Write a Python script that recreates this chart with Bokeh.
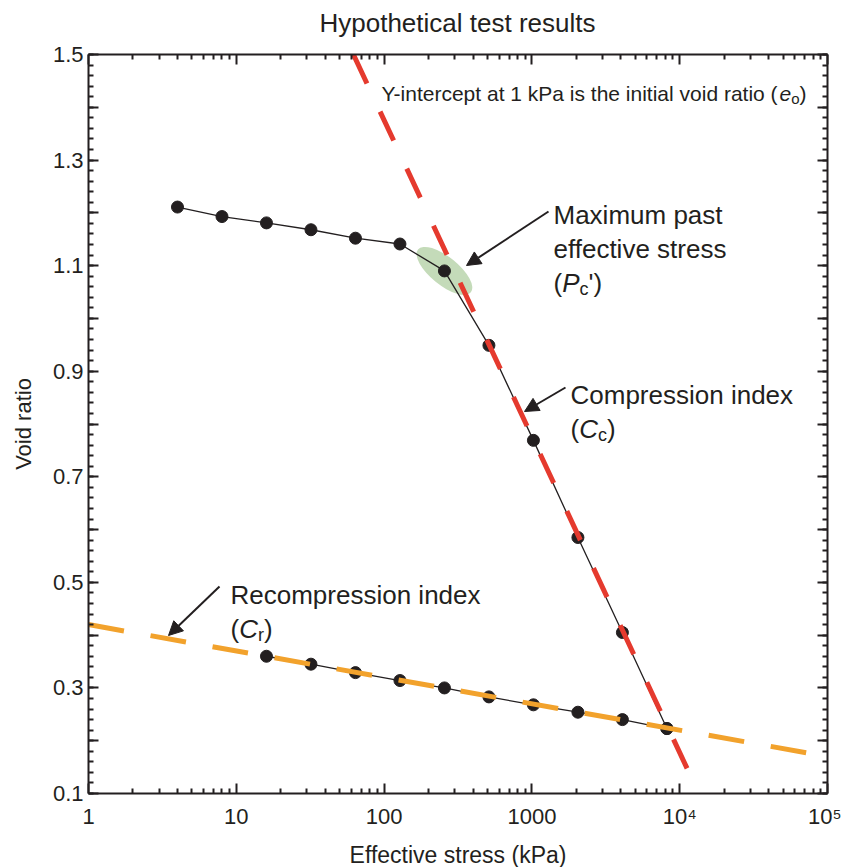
from bokeh.plotting import figure
from bokeh.layouts import column
from bokeh.models import (LogAxis, LinearAxis, FixedTicker, CustomJSTickFormatter,
                          Label, Arrow, NormalHead, Range1d, Div)
from bokeh.embed import file_html
from bokeh.resources import INLINE

# ---- oedometer test data -------------------------------------------------
# loading branch (kPa, void ratio)
load_stress = [4, 8, 16, 32, 64, 128, 256, 512, 1024, 2048, 4096, 8192]
load_void = [1.211, 1.193, 1.181, 1.168, 1.152, 1.141, 1.090, 0.949, 0.769, 0.585, 0.405, 0.223]

# unloading / reloading branch
unload_stress = [8192, 4096, 2048, 1024, 512, 256, 128, 64, 32, 16]
unload_void = [0.223, 0.240, 0.254, 0.268, 0.283, 0.300, 0.314, 0.329, 0.345, 0.360]

# fitted virgin compression line (Cc) and recompression line (Cr)
cc_stress = [62, 12000]
cc_void = [1.5, 0.13]
cr_stress = [1, 100000]
cr_void = [0.42, 0.17]

# maximum past effective stress estimate
pc_stress = [256]
pc_void = [1.09]

x_ticks = [1, 10, 100, 1000, 10000, 100000]
x_minor = [m * 10 ** d for d in range(5) for m in range(2, 10)]
y_ticks = [round(0.1 * i, 1) for i in range(1, 16)]
y_minor = [round(0.02 * i, 2) for i in range(5, 76)]

TITLE = "Hypothetical test results"
INK = "#231f20"
RED = "#e53a2e"
ORANGE = "#f2a22c"
FONT = "Liberation Sans"

# ---- geometry (frame placement in the page) -----------------------------
HEAD = 40                      # height of the title strip above the figure
FL, FT, FW, FH = 88, 54, 739, 739


def dx(px):
    return 10 ** ((px - FL) / (FW / 5))


def dy(py):
    return 1.5 - (py - FT) / (FH / 1.4)


head = Div(text=f'<div style="position:absolute; left:0; top:10px; width:{2 * FL + FW}px; '
                f'text-align:center; font-family:\'{FONT}\'; font-size:26px; line-height:26px; '
                f'color:{INK}; white-space:nowrap;">{TITLE}</div>',
           width=FL + FW + 14, height=HEAD, margin=0,
           styles={"position": "relative", "overflow": "visible"})

p = figure(x_axis_type="log", output_backend="svg", toolbar_location=None,
           frame_width=FW, frame_height=FH,
           min_border_left=FL, min_border_top=FT - HEAD, min_border_right=14, min_border_bottom=74,
           x_range=Range1d(1, 100000), y_range=Range1d(0.1, 1.5))
p.background_fill_color = "white"
p.border_fill_color = "white"
p.outline_line_color = None
p.xgrid.visible = False
p.ygrid.visible = False

# powers of ten above 1000 are written as 10 with a superscript exponent
x_fmt = CustomJSTickFormatter(code="""
const n = Math.round(Math.log10(tick));
if (n <= 3) { return String(Math.round(tick)); }
const sup = ['\\u2070', '\\u00b9', '\\u00b2', '\\u00b3', '\\u2074', '\\u2075'];
return '10' + sup[n];
""")
y_fmt = CustomJSTickFormatter(code="""
const k = Math.round(tick * 10);
return (k % 2 === 1) ? tick.toFixed(1) : '';
""")
blank_fmt = CustomJSTickFormatter(code="return '';")


def style_axis(ax, labelled=True):
    ax.axis_line_color = INK
    ax.axis_line_width = 2
    ax.major_tick_line_color = INK
    ax.major_tick_line_width = 2
    ax.minor_tick_line_color = INK
    ax.minor_tick_line_width = 2
    ax.major_tick_in = 10
    ax.major_tick_out = 0
    ax.minor_tick_in = 5
    ax.minor_tick_out = 0
    ax.major_label_text_font = FONT
    ax.major_label_text_color = INK
    ax.axis_label_text_font = FONT
    ax.axis_label_text_font_style = "normal"
    ax.axis_label_text_color = INK
    if not labelled:
        ax.major_label_text_font_size = "0px"
        ax.major_label_standoff = 0


xt = FixedTicker(ticks=x_ticks, minor_ticks=x_minor)
yt = FixedTicker(ticks=y_ticks, minor_ticks=y_minor)

xa = p.xaxis[0]
xa.ticker = xt
xa.formatter = x_fmt
style_axis(xa)
xa.major_label_text_font_size = "22px"
xa.major_label_standoff = 10
xa.axis_label = "Effective stress (kPa)"
xa.axis_label_text_font_size = "23px"
xa.axis_label_standoff = 10

ya = p.yaxis[0]
ya.ticker = yt
ya.formatter = y_fmt
style_axis(ya)
ya.major_label_text_font_size = "22px"
ya.major_label_standoff = 5
ya.axis_label = "Void ratio"
ya.axis_label_text_font_size = "22px"
ya.axis_label_standoff = 14

top = LogAxis(ticker=xt, formatter=blank_fmt)
style_axis(top, labelled=False)
p.add_layout(top, "above")
right = LinearAxis(ticker=yt, formatter=blank_fmt)
style_axis(right, labelled=False)
p.add_layout(right, "right")

# ---- marks ---------------------------------------------------------------
p.ellipse(x=pc_stress, y=pc_void, width=68, height=28, angle=-0.68,
          width_units="screen", height_units="screen",
          fill_color="#c4dbb9", line_color=None)

p.line(load_stress, load_void, line_color=INK, line_width=1.3)
p.line(unload_stress, unload_void, line_color=INK, line_width=1.3)
p.scatter(load_stress, load_void, size=12, fill_color=INK, line_color=INK)
p.scatter(unload_stress, unload_void, size=12, fill_color=INK, line_color=INK)

p.line(cc_stress, cc_void, line_color=RED, line_width=5, line_dash="32 31")
p.line(cr_stress, cr_void, line_color=ORANGE, line_width=5, line_dash="36 27")

# ---- annotations ---------------------------------------------------------
W = {' ': 278, '(': 333, ')': 333, "'": 191, '-': 333, '1': 556,
     'Y': 667, 'P': 667, 'C': 722, 'M': 833, 'R': 722, 'k': 500, 'a': 556, 'c': 500,
     'd': 556, 'e': 556, 'f': 278, 'h': 556, 'i': 222, 'l': 222, 'm': 833, 'n': 556,
     'o': 556, 'p': 556, 'r': 333, 's': 500, 't': 278, 'u': 556, 'v': 500, 'x': 500}


def text_width(s, size):
    return sum(W.get(ch, 556) for ch in s) * size / 1000


def rich_text(x, y, parts, start=0.0):
    """parts: (text, font size, style, baseline shift in px)"""
    off = start
    for txt, size, style, shift in parts:
        p.add_layout(Label(x=x, y=y, x_offset=off, y_offset=shift, text=txt,
                           text_font=FONT, text_font_size=f"{size}px", text_font_style=style,
                           text_color=INK, text_baseline="alphabetic", text_align="left"))
        off += text_width(txt, size)


rich_text(dx(381), dy(93), [("Y-intercept at 1 kPa is the initial void ratio (", 21, "normal", 0),
                            ("e", 21, "italic", 0), ("o", 15, "normal", -5), (")", 21, "normal", 0)])

rich_text(dx(553), dy(214), [("Maximum past", 26, "normal", 0)])
rich_text(dx(553), dy(248), [("effective stress", 26, "normal", 0)])
rich_text(dx(553), dy(282), [("(", 26, "normal", 0), ("P", 26, "italic", 0), ("c", 18, "normal", -6),
                             ("'", 26, "normal", 0), (")", 26, "normal", 0)])

rich_text(dx(570), dy(394), [("Compression index", 26, "normal", 0)])
rich_text(dx(570), dy(428), [("(", 26, "normal", 0), ("C", 26, "italic", 0), ("c", 18, "normal", -6),
                             (")", 26, "normal", 0)])

rich_text(dx(230), dy(594), [("Recompression index", 26, "normal", 0)])
rich_text(dx(230), dy(628), [("(", 26, "normal", 0), ("C", 26, "italic", 0), ("r", 18, "normal", -6),
                             (")", 26, "normal", 0)])


def pointer(x0, y0, x1, y1):
    p.add_layout(Arrow(x_start=dx(x0), y_start=dy(y0), x_end=dx(x1), y_end=dy(y1),
                       line_color=INK, line_width=2,
                       end=NormalHead(size=14, fill_color=INK, line_color=INK)))


pointer(548, 211, 466, 265)
pointer(565, 387, 524, 411)
pointer(219, 586, 168, 635)

page = column(head, p, spacing=0, margin=0)

with open("out.html", "w", encoding="utf-8") as fh:
    fh.write(file_html(page, INLINE))
